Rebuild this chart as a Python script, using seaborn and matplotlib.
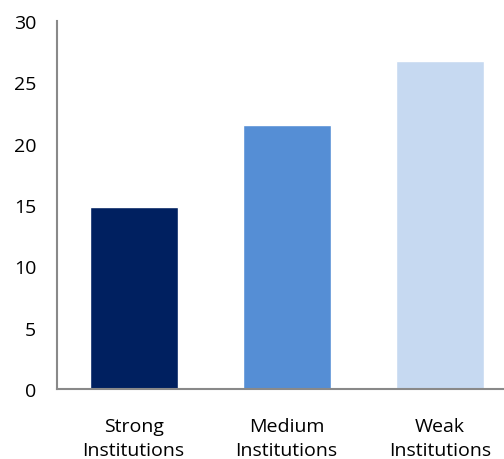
import matplotlib
matplotlib.use("Agg")
import matplotlib.pyplot as plt
import pandas as pd
import seaborn as sns

# Data
categories = ["Strong\nInstitutions", "Medium\nInstitutions", "Weak\nInstitutions"]
values = [14.8, 21.5, 26.7]
colors = ["#002060", "#558ED5", "#C6D9F1"]

df = pd.DataFrame({"Category": categories, "Value": values})

sns.set_style("white")
plt.rcParams["font.family"] = ["Open Sans", "DejaVu Sans"]

fig = plt.figure(figsize=(5.04, 4.6), dpi=100)
ax = fig.add_axes([57 / 504, 70 / 460, (504 - 57) / 504, 368 / 460])

sns.barplot(
    x="Category", y="Value", hue="Category", data=df,
    palette=colors, width=0.575, legend=False, ax=ax, saturation=1,
)

ax.set_xlim(-0.5, 2.42)
ax.set_ylim(0, 30)
ax.set_yticks(range(0, 31, 5))
ax.set_xlabel("")
ax.set_ylabel("")

for s in ["top", "right"]:
    ax.spines[s].set_visible(False)
for s in ["left", "bottom"]:
    ax.spines[s].set_color("#898989")
    ax.spines[s].set_linewidth(1.5)

ax.tick_params(axis="y", length=0, pad=15, labelsize=14, colors="black")
ax.tick_params(axis="x", length=0, pad=20, labelsize=14, colors="black")
for lbl in ax.get_xticklabels():
    lbl.set_linespacing(1.45)

fig.savefig("out.png", dpi=100)
